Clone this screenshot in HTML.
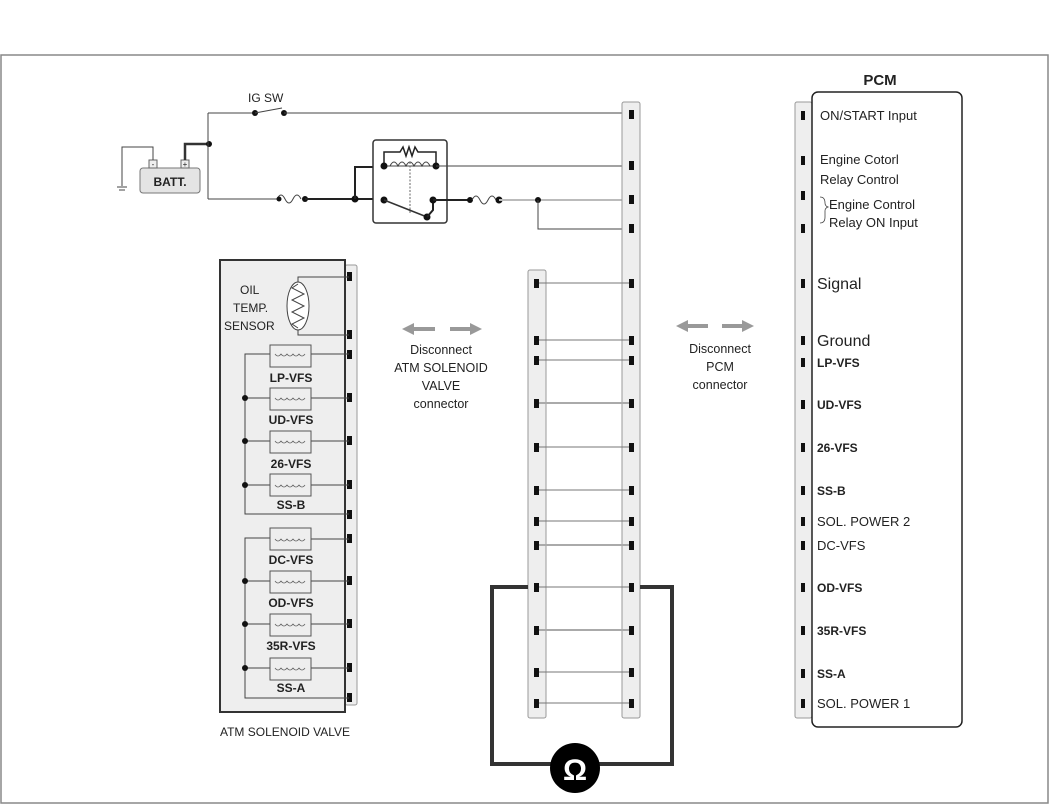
<!DOCTYPE html>
<html><head><meta charset="utf-8"><style>
html,body{margin:0;padding:0;background:#fff}
svg{display:block}
text{font-family:"Liberation Sans",sans-serif;fill:#222}
.b{font-weight:bold}
</style></head><body>
<svg width="1050" height="805" viewBox="0 0 1050 805" xmlns="http://www.w3.org/2000/svg">
<rect x="1" y="55" width="1047" height="748" fill="none" stroke="#888" stroke-width="1.5"/>

<!-- Battery & ground -->
<rect x="140" y="168" width="60" height="25" rx="3" fill="#e4e4e4" stroke="#777"/>
<text x="170" y="186" font-size="12" text-anchor="middle" class="b">BATT.</text>
<rect x="149" y="160" width="8" height="8" fill="#eee" stroke="#666"/>
<rect x="181" y="160" width="8" height="8" fill="#eee" stroke="#666"/>
<text x="153" y="167" font-size="8" text-anchor="middle">-</text>
<text x="185" y="167" font-size="8" text-anchor="middle">+</text>
<polyline points="153,160 153,147 122,147 122,186" fill="none" stroke="#444"/>
<line x1="117" y1="187" x2="127" y2="187" stroke="#444"/>
<line x1="119" y1="190" x2="125" y2="190" stroke="#444"/>
<polyline points="185,160 185,144 208,144" fill="none" stroke="#333" stroke-width="2.5"/>
<circle cx="209" cy="144" r="3" fill="#111"/>
<polyline points="208,113 255,113" fill="none" stroke="#444"/>
<line x1="208" y1="113" x2="208" y2="199" stroke="#444"/>
<text x="248" y="102" font-size="12">IG SW</text>
<circle cx="255" cy="113" r="3" fill="#111"/>
<circle cx="284" cy="113" r="3" fill="#111"/>
<line x1="255" y1="113" x2="282" y2="108" stroke="#444"/>
<line x1="284" y1="113" x2="624" y2="113" stroke="#444"/>

<!-- bottom wire with fuses & relay -->
<line x1="208" y1="199" x2="277" y2="199" stroke="#444"/>
<path d="M277,199 q4,-8 8,0 q4,8 8,0 q4,-8 8,0" fill="none" stroke="#444"/>
<circle cx="279" cy="199" r="2.5" fill="#111"/>
<circle cx="305" cy="199" r="3" fill="#111"/>
<line x1="305" y1="199" x2="384" y2="199" stroke="#222" stroke-width="2"/>
<circle cx="355" cy="199" r="3.5" fill="#111"/>
<polyline points="355,199 355,167 384,167" fill="none" stroke="#222" stroke-width="2"/>
<rect x="373" y="140" width="74" height="83" rx="3" fill="#fff" stroke="#333" stroke-width="1.5"/>
<polyline points="384,165 384,152 400,152 403,147 406,156 409,147 412,156 415,147 418,152 436,152 436,165" fill="none" stroke="#222" stroke-width="1.5"/>
<path d="M390,166 q4,-8 8,0 q4,-8 8,0 q4,-8 8,0 q4,-8 8,0 q4,-8 8,0" fill="none" stroke="#444"/>
<line x1="384" y1="166" x2="436" y2="166" stroke="#444"/>
<line x1="410" y1="162" x2="410" y2="214" stroke="#666" stroke-dasharray="2,1.5"/>
<circle cx="384" cy="166" r="3.5" fill="#111"/>
<circle cx="436" cy="166" r="3.5" fill="#111"/>
<line x1="436" y1="166" x2="624" y2="166" stroke="#444"/>
<circle cx="384" cy="200" r="3.5" fill="#111"/>
<line x1="384" y1="200" x2="427" y2="217" stroke="#333" stroke-width="1.5"/>
<circle cx="427" cy="217" r="3.5" fill="#111"/>
<polyline points="427,217 433,210 433,200" fill="none" stroke="#222" stroke-width="2"/>
<circle cx="433" cy="200" r="3.5" fill="#111"/>
<line x1="433" y1="200" x2="470" y2="200" stroke="#222" stroke-width="2"/>
<circle cx="470" cy="200" r="3" fill="#111"/>
<path d="M472,200 q4,-8 8,0 q4,8 8,0 q4,-8 8,0" fill="none" stroke="#444"/>
<circle cx="499" cy="200" r="3.5" fill="#111"/>
<line x1="499" y1="200" x2="624" y2="200" stroke="#bbb" stroke-width="2"/>
<circle cx="538" cy="200" r="3" fill="#111"/>
<polyline points="538,200 538,229 624,229" fill="none" stroke="#444"/>

<!-- ladder connectors -->
<rect x="528" y="270" width="18" height="448" rx="2" fill="#eee" stroke="#999"/>
<rect x="622" y="102" width="18" height="616" rx="2" fill="#eee" stroke="#999"/>
<g fill="#111">
<rect x="629" y="110" width="5" height="9"/><rect x="629" y="161" width="5" height="9"/><rect x="629" y="195" width="5" height="9"/><rect x="629" y="224" width="5" height="9"/>
</g>
<g stroke="#777">
<line x1="537" y1="283" x2="631" y2="283"/><line x1="537" y1="340" x2="631" y2="340"/><line x1="537" y1="360" x2="631" y2="360"/><line x1="537" y1="403" x2="631" y2="403" stroke="#aaa" stroke-width="2"/><line x1="537" y1="447" x2="631" y2="447"/><line x1="537" y1="490" x2="631" y2="490"/><line x1="537" y1="521" x2="631" y2="521"/><line x1="537" y1="545" x2="631" y2="545" stroke="#aaa" stroke-width="2"/><line x1="537" y1="587" x2="631" y2="587"/><line x1="537" y1="630" x2="631" y2="630" stroke="#aaa" stroke-width="2"/><line x1="537" y1="672" x2="631" y2="672"/><line x1="537" y1="703" x2="631" y2="703"/>
</g>
<g fill="#111">
<rect x="534" y="279" width="5" height="9"/><rect x="534" y="336" width="5" height="9"/><rect x="534" y="356" width="5" height="9"/><rect x="534" y="399" width="5" height="9"/><rect x="534" y="443" width="5" height="9"/><rect x="534" y="486" width="5" height="9"/><rect x="534" y="517" width="5" height="9"/><rect x="534" y="541" width="5" height="9"/><rect x="534" y="583" width="5" height="9"/><rect x="534" y="626" width="5" height="9"/><rect x="534" y="668" width="5" height="9"/><rect x="534" y="699" width="5" height="9"/>
<rect x="629" y="279" width="5" height="9"/><rect x="629" y="336" width="5" height="9"/><rect x="629" y="356" width="5" height="9"/><rect x="629" y="399" width="5" height="9"/><rect x="629" y="443" width="5" height="9"/><rect x="629" y="486" width="5" height="9"/><rect x="629" y="517" width="5" height="9"/><rect x="629" y="541" width="5" height="9"/><rect x="629" y="583" width="5" height="9"/><rect x="629" y="626" width="5" height="9"/><rect x="629" y="668" width="5" height="9"/><rect x="629" y="699" width="5" height="9"/>
</g>

<!-- ohmmeter loop -->
<polyline points="528,587 492,587 492,764 672,764 672,587 640,587" fill="none" stroke="#333" stroke-width="4"/>
<circle cx="575" cy="768" r="25" fill="#000"/>
<text x="575" y="780" font-size="30" font-weight="bold" text-anchor="middle" style="fill:#fff">Ω</text>

<!-- arrows -->
<g fill="#999" stroke="#999" stroke-width="4">
<line x1="412" y1="329" x2="435" y2="329"/><line x1="450" y1="329" x2="472" y2="329"/>
<line x1="686" y1="326" x2="708" y2="326"/><line x1="722" y1="326" x2="744" y2="326"/>
</g>
<g fill="#999">
<polygon points="402,329 414,323 414,335"/><polygon points="482,329 470,323 470,335"/>
<polygon points="676,326 688,320 688,332"/><polygon points="754,326 742,320 742,332"/>
</g>
<g font-size="12.5" text-anchor="middle">
<text x="441" y="354">Disconnect</text><text x="441" y="372">ATM SOLENOID</text><text x="441" y="390">VALVE</text><text x="441" y="408">connector</text>
<text x="720" y="353">Disconnect</text><text x="720" y="371">PCM</text><text x="720" y="389">connector</text>
</g>

<!-- ATM solenoid valve -->
<rect x="345" y="265" width="12" height="440" rx="2" fill="#eee" stroke="#999"/>
<rect x="220" y="260" width="125" height="452" fill="#eee" stroke="#333" stroke-width="2"/>
<g fill="#111">
<rect x="347" y="272" width="5" height="9"/><rect x="347" y="330" width="5" height="9"/><rect x="347" y="350" width="5" height="9"/><rect x="347" y="393" width="5" height="9"/><rect x="347" y="436" width="5" height="9"/><rect x="347" y="480" width="5" height="9"/><rect x="347" y="510" width="5" height="9"/><rect x="347" y="534" width="5" height="9"/><rect x="347" y="576" width="5" height="9"/><rect x="347" y="619" width="5" height="9"/><rect x="347" y="663" width="5" height="9"/><rect x="347" y="693" width="5" height="9"/>
</g>
<text x="240" y="294" font-size="12">OIL</text>
<text x="233" y="312" font-size="12">TEMP.</text>
<text x="224" y="330" font-size="12">SENSOR</text>
<ellipse cx="298" cy="306" rx="11" ry="24" fill="#fff" stroke="#444"/>
<polyline points="298,284 292,288 304,294 292,300 304,306 292,312 304,318 292,324 298,328" fill="none" stroke="#444"/>
<polyline points="298,282 298,277 349,277" fill="none" stroke="#444"/>
<polyline points="298,330 298,335 349,335" fill="none" stroke="#444"/>
<g stroke="#444" fill="none">
<polyline points="270,354 245,354 245,514 349,514"/>
<polyline points="270,538 245,538 245,698 349,698"/>
<line x1="245" y1="398" x2="270" y2="398"/><line x1="245" y1="441" x2="270" y2="441"/><line x1="245" y1="485" x2="270" y2="485"/>
<line x1="245" y1="581" x2="270" y2="581"/><line x1="245" y1="624" x2="270" y2="624"/><line x1="245" y1="668" x2="270" y2="668"/>
<line x1="311" y1="354" x2="349" y2="354"/><line x1="311" y1="398" x2="349" y2="398"/><line x1="311" y1="441" x2="349" y2="441"/><line x1="311" y1="485" x2="349" y2="485"/>
<line x1="311" y1="539" x2="349" y2="539"/><line x1="311" y1="581" x2="349" y2="581"/><line x1="311" y1="624" x2="349" y2="624"/><line x1="311" y1="668" x2="349" y2="668"/>
</g>
<g fill="#111">
<circle cx="245" cy="398" r="3"/><circle cx="245" cy="441" r="3"/><circle cx="245" cy="485" r="3"/>
<circle cx="245" cy="581" r="3"/><circle cx="245" cy="624" r="3"/><circle cx="245" cy="668" r="3"/>
</g>
<g fill="#eee" stroke="#555">
<rect x="270" y="345" width="41" height="22"/><rect x="270" y="388" width="41" height="22"/><rect x="270" y="431" width="41" height="22"/><rect x="270" y="474" width="41" height="22"/>
<rect x="270" y="528" width="41" height="22"/><rect x="270" y="571" width="41" height="22"/><rect x="270" y="614" width="41" height="22"/><rect x="270" y="658" width="41" height="22"/>
</g>
<g fill="none" stroke="#666" stroke-width="0.8">
<path d="M275,354 q3,4 6,0 q3,4 6,0 q3,4 6,0 q3,4 6,0 q3,4 6,0"/>
<path d="M275,398 q3,4 6,0 q3,4 6,0 q3,4 6,0 q3,4 6,0 q3,4 6,0"/>
<path d="M275,441 q3,4 6,0 q3,4 6,0 q3,4 6,0 q3,4 6,0 q3,4 6,0"/>
<path d="M275,485 q3,4 6,0 q3,4 6,0 q3,4 6,0 q3,4 6,0 q3,4 6,0"/>
<path d="M275,539 q3,4 6,0 q3,4 6,0 q3,4 6,0 q3,4 6,0 q3,4 6,0"/>
<path d="M275,581 q3,4 6,0 q3,4 6,0 q3,4 6,0 q3,4 6,0 q3,4 6,0"/>
<path d="M275,624 q3,4 6,0 q3,4 6,0 q3,4 6,0 q3,4 6,0 q3,4 6,0"/>
<path d="M275,668 q3,4 6,0 q3,4 6,0 q3,4 6,0 q3,4 6,0 q3,4 6,0"/>
</g>
<g font-size="12" class="b" text-anchor="middle">
<text x="291" y="382">LP-VFS</text><text x="291" y="424">UD-VFS</text><text x="291" y="468">26-VFS</text><text x="291" y="509">SS-B</text>
<text x="291" y="564">DC-VFS</text><text x="291" y="607">OD-VFS</text><text x="291" y="650">35R-VFS</text><text x="291" y="692">SS-A</text>
</g>
<text x="285" y="736" font-size="12" text-anchor="middle">ATM SOLENOID VALVE</text>

<!-- PCM -->
<text x="880" y="85" font-size="15" class="b" text-anchor="middle">PCM</text>
<rect x="795" y="102" width="17" height="616" rx="2" fill="#eee" stroke="#999"/>
<rect x="812" y="92" width="150" height="635" rx="6" fill="#fff" stroke="#222" stroke-width="1.5"/>
<g fill="#111">
<rect x="801" y="111" width="4" height="9"/><rect x="801" y="156" width="4" height="9"/><rect x="801" y="191" width="4" height="9"/><rect x="801" y="224" width="4" height="9"/><rect x="801" y="279" width="4" height="9"/><rect x="801" y="336" width="4" height="9"/><rect x="801" y="358" width="4" height="9"/><rect x="801" y="400" width="4" height="9"/><rect x="801" y="443" width="4" height="9"/><rect x="801" y="486" width="4" height="9"/><rect x="801" y="517" width="4" height="9"/><rect x="801" y="541" width="4" height="9"/><rect x="801" y="583" width="4" height="9"/><rect x="801" y="626" width="4" height="9"/><rect x="801" y="669" width="4" height="9"/><rect x="801" y="699" width="4" height="9"/>
</g>
<g font-size="13">
<text x="820" y="120">ON/START Input</text>
<text x="820" y="164">Engine Cotorl</text>
<text x="820" y="184">Relay Control</text>
<text x="829" y="209">Engine Control</text>
<text x="829" y="227">Relay ON Input</text>
<text x="817" y="289" font-size="16">Signal</text>
<text x="817" y="346" font-size="16">Ground</text>
<text x="817" y="526">SOL. POWER 2</text>
<text x="817" y="550">DC-VFS</text>
<text x="817" y="708">SOL. POWER 1</text>
</g>
<path d="M820,197 q5,0 5,6 q0,3 3,4 q-3,1 -3,4 l0,6 q0,6 -5,6" fill="none" stroke="#444" stroke-width="0.8"/>
<g font-size="12" class="b">
<text x="817" y="367">LP-VFS</text><text x="817" y="409">UD-VFS</text><text x="817" y="452">26-VFS</text><text x="817" y="495">SS-B</text>
<text x="817" y="592">OD-VFS</text><text x="817" y="635">35R-VFS</text><text x="817" y="678">SS-A</text>
</g>
</svg>
</body></html>
